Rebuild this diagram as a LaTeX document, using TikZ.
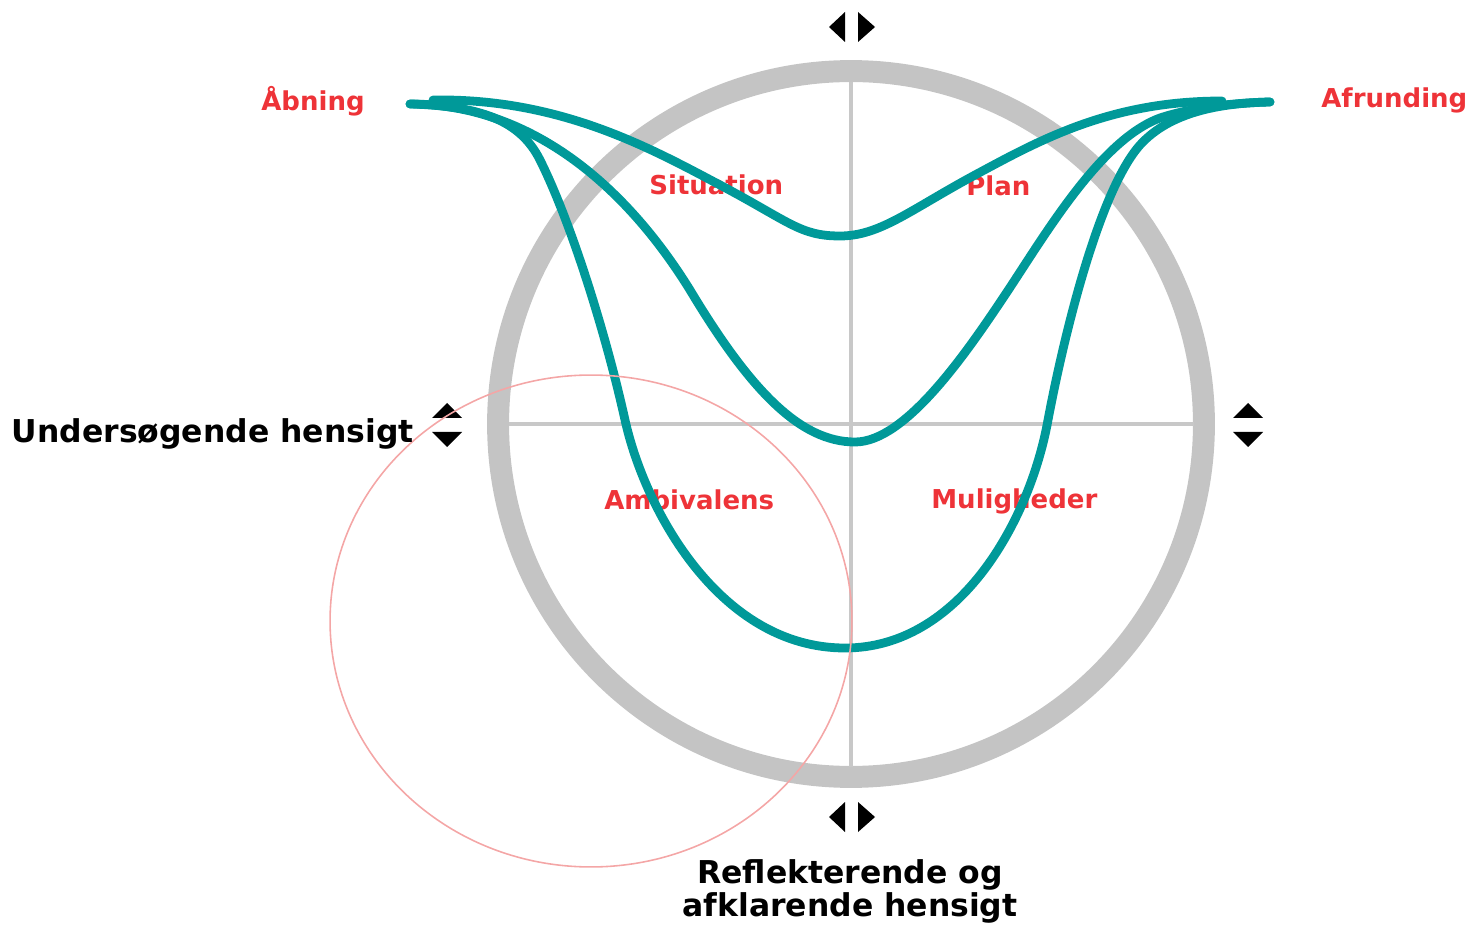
\documentclass[tikz,border=0pt]{standalone}
\usepackage{fontspec}
\setmainfont{DejaVu Sans}
\definecolor{tealc}{HTML}{009999}
\definecolor{ringc}{HTML}{C4C4C4}
\definecolor{crossc}{HTML}{C8C8C8}
\definecolor{redc}{HTML}{EE3338}
\definecolor{pinkc}{HTML}{F4A6A6}
\tikzset{
  redlab/.style={font=\fontsize{14.8}{16}\selectfont\bfseries, text=redc, inner sep=0pt, anchor=base west},
  blacklab/.style={font=\fontsize{17.9}{19}\selectfont\bfseries, text=black, inner sep=0pt},
  curve/.style={draw=tealc, line width=5pt, line cap=round, line join=round},
  tri/.style={fill=black, draw=none},
}
\begin{document}
\begin{tikzpicture}[x=0.02cm, y=-0.02cm]
\useasboundingbox (0,0) rectangle (1470,925);
\coordinate (C) at (851,424);
\coordinate (E) at (591,621);
% ring and cross
\draw[ringc, line width=12.5pt] (C) circle[radius=7.06cm];
\coordinate (vt) at (851,82);
\coordinate (vb) at (851,767);
\coordinate (hl) at (509,424);
\coordinate (hr) at (1194,424);
\draw[crossc, line width=2.3pt] (vt) -- (vb);
\draw[crossc, line width=2.3pt] (hl) -- (hr);
% red labels
\node[redlab] (abn) at (261,111) {Åbning};
\node[redlab] (afr) at (1321,108) {Afrunding};
\node[redlab] (sit) at (649,195) {Situation};
\node[redlab] (pla) at (966,196) {Plan};
\node[redlab] (amb) at (604,509) {Ambivalens};
\node[redlab] (mul) at (931,508) {Muligheder};
% curve end points
\coordinate (sL) at (433,100);
\coordinate (sR) at (1222,101);
\coordinate (dL) at (410,104);
\coordinate (dR) at (1270,102);
% shallow curve
\draw[curve] (sL) .. controls (560,98) and (650,148) .. (720,185)
  .. controls (790,222) and (800,236) .. (840,236)
  .. controls (880,236) and (910,210) .. (975,175)
  .. controls (1040,140) and (1110,101) .. (sR);
% medium curve
\draw[curve] (dL) .. controls (530,104) and (625,185) .. (690,290)
  .. controls (750,390) and (800,442) .. (855,442)
  .. controls (905,442) and (965,355) .. (1005,295)
  .. controls (1045,235) and (1100,140) .. (1160,118)
  .. controls (1190,108) and (1230,103) .. (dR);
% deep curve
\draw[curve] (dL) .. controls (480,106) and (520,120) .. (540,160)
  .. controls (570,220) and (605,330) .. (625,420)
  .. controls (645,510) and (720,648) .. (845,648)
  .. controls (960,648) and (1030,520) .. (1048,420)
  .. controls (1065,330) and (1100,190) .. (1140,145)
  .. controls (1170,112) and (1220,103) .. (dR);
% arrow triangles
\fill[tri] (829,27) -- (845,12) -- (845,42) -- cycle;
\fill[tri] (858,12) -- (875,27) -- (858,42) -- cycle;
\fill[tri] (829,817) -- (845,802) -- (845,832) -- cycle;
\fill[tri] (858,802) -- (875,817) -- (858,832) -- cycle;
\fill[tri] (447,403) -- (432,418) -- (462,418) -- cycle;
\fill[tri] (432,432) -- (462,432) -- (447,447) -- cycle;
\fill[tri] (1248,403) -- (1233,418) -- (1263,418) -- cycle;
\fill[tri] (1233,432) -- (1263,432) -- (1248,447) -- cycle;
% pink ellipse
\draw[pinkc, line width=0.9pt] (E) ellipse[x radius=5.22cm, y radius=4.92cm];
% black labels
\node[blacklab, anchor=base east] (und) at (414,443) {Undersøgende hensigt};
\node[blacklab, anchor=base] (ref1) at (850,883) {Reflekterende og};
\node[blacklab, anchor=base] (ref2) at (850,916) {afklarende hensigt};
\end{tikzpicture}
\end{document}
